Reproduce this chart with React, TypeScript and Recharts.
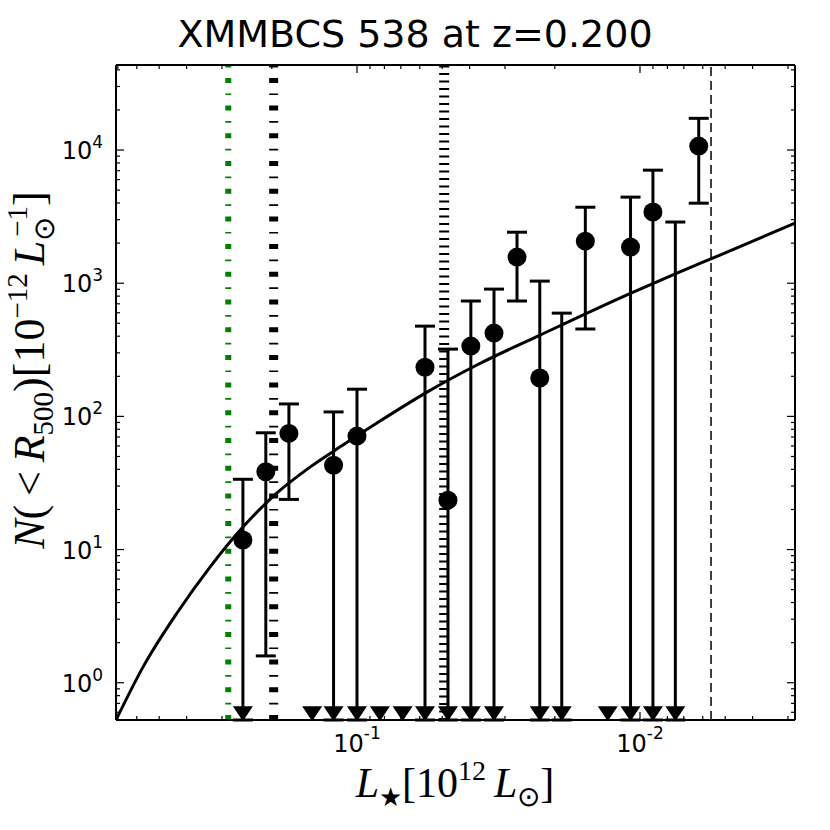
import React from "react";
import { ComposedChart, XAxis, YAxis, Scatter, Line, ErrorBar, ReferenceLine } from "recharts";

// luminosity bins (10^12 Lsun)
const binL = [0.253, 0.21, 0.174, 0.144, 0.121, 0.1, 0.083, 0.069, 0.0575, 0.0477, 0.0396,
  0.0328, 0.0272, 0.0226, 0.0189, 0.0156, 0.013, 0.0108, 0.009, 0.0075, 0.0062];
// measured counts (null = no point drawn)
const counts = [11.8, 38.4, 74.5, null, 42.9, 71.1, null, null, 234, 23.5, 337,
  422, 1570, 194, null, 2070, null, 1867, 3420, null, 10700];
// top of each error bar (null = no bar)
const upper = [33.7, 75.3, 124, null, 108, 160, null, null, 476, 320, 735,
  903, 2415, 1037, 596, 3720, null, 4430, 7060, 2880, 17300];
// bottom of each error bar (null = runs down to zero -> arrow / triangle)
const lower = [null, 1.59, 23.8, null, null, null, null, null, null, null, null,
  null, 735, null, null, 453, null, null, null, null, 3990];

// model curve
const curveL = [0.7105, 0.5705, 0.4325, 0.3307, 0.2529, 0.1917, 0.1466, 0.1121, 0.085, 0.05658,
  0.0377, 0.02254, 0.01076, 0.0074, 0.005218, 0.002833];
const curveN = [0.525, 1.31, 3.34, 7.39, 14.75, 26.6, 41.6, 60.9, 89.1, 152,
  243, 408, 843, 1191, 1625, 2826];

// vertical markers
const greenLineL = 0.285;
const dashDotL = 0.197;
const dottedL = 0.0492;
const dashedL = 0.00561;

const LIMIT_LEVEL = 0.59; // where the down triangles sit

const X_DOMAIN = [0.002833, 0.7105];
const Y_DOMAIN = [0.525, 43500];
const FLOOR = Y_DOMAIN[0]; // bars without a lower bound run down to the axis
const xDecades = [0.001, 0.01, 0.1];
const yDecades = [0.1, 1, 10, 100, 1000, 10000];
const multiples = [1, 2, 3, 4, 5, 6, 7, 8, 9];

const inDomain = (v: number, d: number[]) => v >= d[0] && v <= d[1];
const xTicks = xDecades.flatMap((d) => multiples.map((m) => m * d)).filter((v) => inDomain(v, X_DOMAIN));
const yTicks = yDecades.flatMap((d) => multiples.map((m) => m * d)).filter((v) => inDomain(v, Y_DOMAIN));

const pointRows = binL
  .map((x, i) => ({ x, y: counts[i] }))
  .filter((r) => r.y != null);
const barRows = binL
  .map((x, i) => ({ x, y: upper[i], err: upper[i] == null ? null : [upper[i]! - (lower[i] ?? FLOOR), 0] }))
  .filter((r) => r.y != null);
const limitRows = binL
  .map((x, i) => ({ x, y: LIMIT_LEVEL, keep: lower[i] == null }))
  .filter((r) => r.keep);
const curveRows = curveL.map((x, i) => ({ x, y: curveN[i] }));

const PLOT = { left: 116, right: 795, top: 65, bottom: 720 };
const TICK_FONT = "DejaVu Sans";
const MATH_FONT = "Liberation Serif";
const AXIS = { stroke: "#000", strokeWidth: 2 };

const isDecade = (v: number) => {
  const l = Math.log10(v);
  return Math.abs(l - Math.round(l)) < 1e-6;
};
const expOf = (v: number) => {
  const e = Math.round(Math.log10(v));
  return e < 0 ? "-" + Math.abs(e) : String(e);
};

const bottomTick = (p: any) => {
  const cx = p.x;
  const major = isDecade(p.payload.value);
  return (
    <g>
      <line x1={cx} x2={cx} y1={PLOT.bottom} y2={PLOT.bottom - (major ? 8 : 4)} stroke="#000" strokeWidth={1.2} />
      {major && (
        <text x={cx} y={752} textAnchor="middle" fontFamily={TICK_FONT} fontSize={24} fill="#000">
          10<tspan fontSize={17} dy={-13}>{expOf(p.payload.value)}</tspan>
        </text>
      )}
    </g>
  );
};
const topTick = (p: any) => {
  const cx = p.x;
  const major = isDecade(p.payload.value);
  return <line x1={cx} x2={cx} y1={PLOT.top} y2={PLOT.top + (major ? 8 : 4)} stroke="#000" strokeWidth={1.2} />;
};
const leftTick = (p: any) => {
  const cy = p.y;
  const major = isDecade(p.payload.value);
  return (
    <g>
      <line x1={PLOT.left} x2={PLOT.left + (major ? 8 : 4)} y1={cy} y2={cy} stroke="#000" strokeWidth={1.2} />
      {major && (
        <text x={103} y={cy + 9} textAnchor="end" fontFamily={TICK_FONT} fontSize={24} fill="#000">
          10<tspan fontSize={17} dy={-11}>{expOf(p.payload.value)}</tspan>
        </text>
      )}
    </g>
  );
};
const rightTick = (p: any) => {
  const cy = p.y;
  const major = isDecade(p.payload.value);
  return <line x1={PLOT.right} x2={PLOT.right - (major ? 8 : 4)} y1={cy} y2={cy} stroke="#000" strokeWidth={1.2} />;
};

const renderNothing = () => <g />;
const renderCircle = (p: any) => <circle cx={p.cx} cy={p.cy} r={9.5} fill="#000" />;
const renderTriangle = (p: any) => (
  <polygon points={`${p.cx - 10},${p.cy - 7} ${p.cx + 10},${p.cy - 7} ${p.cx},${p.cy + 8}`} fill="#000" />
);

export default function App() {
  return (
    <div style={{ position: "absolute", left: 0, top: 0, width: 830, height: 830, background: "#fff" }}>
      <ComposedChart width={830} height={830} margin={{ top: 64, right: 34, bottom: 0, left: 0 }}>
        <XAxis dataKey="x" type="number" scale="log" domain={X_DOMAIN} reversed allowDataOverflow
          ticks={xTicks} interval={0} height={110} axisLine={AXIS} tickLine={false} tick={bottomTick} />
        <XAxis xAxisId="top" dataKey="x" orientation="top" type="number" scale="log" domain={X_DOMAIN} reversed
          allowDataOverflow ticks={xTicks} interval={0} height={1} axisLine={AXIS} tickLine={false} tick={topTick} />
        <YAxis type="number" scale="log" domain={Y_DOMAIN} allowDataOverflow ticks={yTicks} interval={0}
          width={116} axisLine={AXIS} tickLine={false} tick={leftTick} />
        <YAxis yAxisId="right" orientation="right" type="number" scale="log" domain={Y_DOMAIN} allowDataOverflow
          ticks={yTicks} interval={0} width={1} axisLine={AXIS} tickLine={false} tick={rightTick} />

        <ReferenceLine y={Y_DOMAIN[1]} stroke="#000" strokeWidth={2} />
        <ReferenceLine x={X_DOMAIN[0]} stroke="#000" strokeWidth={2} />

        <ReferenceLine x={greenLineL} stroke="#008000" strokeWidth={6} strokeDasharray="5 10.5 1.7 10.5" />
        <ReferenceLine x={dashDotL} stroke="#000" strokeWidth={9} strokeDasharray="5 10.5 1.7 10.5" />
        <ReferenceLine x={dottedL} stroke="#000" strokeWidth={10} strokeDasharray="2 5.5" />
        <ReferenceLine x={dashedL} stroke="#000" strokeWidth={1.5} strokeDasharray="9 5" />

        <Scatter data={barRows} dataKey="y" shape={renderNothing} isAnimationActive={false}>
          <ErrorBar dataKey="err" direction="y" width={10} stroke="#000" strokeWidth={3} isAnimationActive={false} />
        </Scatter>
        <Scatter data={limitRows} dataKey="y" shape={renderTriangle} isAnimationActive={false} />
        <Line data={curveRows} dataKey="y" xAxisId="top" yAxisId="right" type="monotone" stroke="#000"
          strokeWidth={3} dot={false} activeDot={false} isAnimationActive={false} />
        <Scatter data={pointRows} dataKey="y" shape={renderCircle} isAnimationActive={false} />
      </ComposedChart>

      <svg width={830} height={830} style={{ position: "absolute", left: 0, top: 0, pointerEvents: "none" }}>
        <text x={415} y={47} textAnchor="middle" fontFamily={TICK_FONT} fontSize={38} fill="#000">
          XMMBCS 538 at z=0.200
        </text>
        <text x={455} y={797} textAnchor="middle" fontFamily={MATH_FONT} fontSize={42} fill="#000">
          <tspan fontStyle="italic">L</tspan>
          <tspan fontSize={26} dy={9}>★</tspan>
          <tspan dy={-9}>[10</tspan>
          <tspan fontSize={28} dy={-17}>12</tspan>
          <tspan dy={17} dx={8} fontStyle="italic">L</tspan>
          <tspan fontSize={28} dy={9}>⊙</tspan>
          <tspan dy={-9}>]</tspan>
        </text>
        <text transform="translate(44, 370) rotate(-90)" textAnchor="middle" fontFamily={MATH_FONT} fontSize={44} fill="#000">
          <tspan fontStyle="italic">N</tspan>
          <tspan>({"\u2009"}&lt;{"\u2009"}</tspan>
          <tspan fontStyle="italic">R</tspan>
          <tspan fontSize={29} dy={9}>500</tspan>
          <tspan dy={-9}>)[10</tspan>
          <tspan fontSize={29} dy={-17}>−12</tspan>
          <tspan dy={17} dx={8} fontStyle="italic">L</tspan>
          <tspan fontSize={29} dy={10}>⊙</tspan>
          <tspan fontSize={29} dx={-20} dy={-27}>−1</tspan>
          <tspan dy={17}>]</tspan>
        </text>
      </svg>
    </div>
  );
}
